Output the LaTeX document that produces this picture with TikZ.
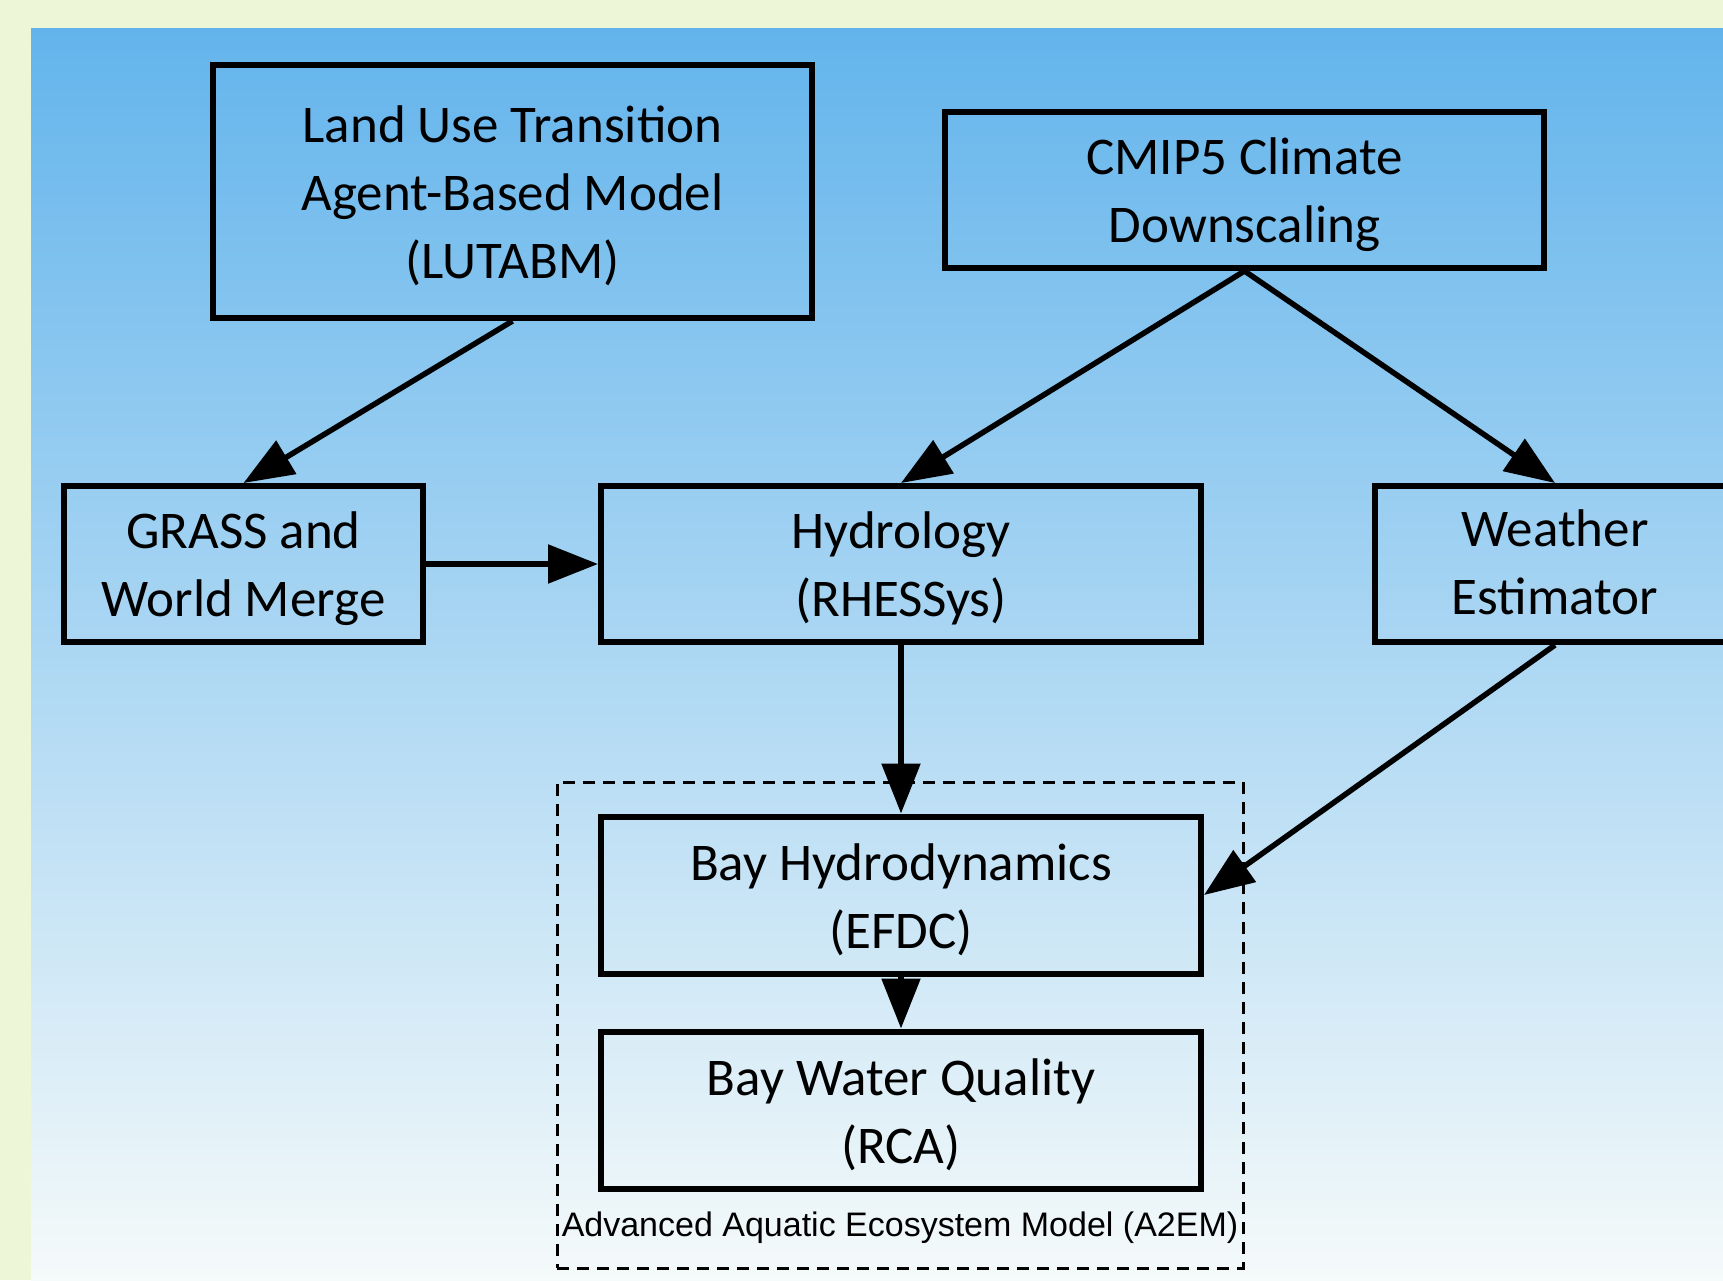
\documentclass[tikz,border=0pt]{standalone}
\usepackage{fontspec}
\setmainfont{Carlito}
\newfontfamily\labelfont{Liberation Sans}
\usetikzlibrary{arrows.meta}
\definecolor{cream}{HTML}{EEF6D8}
\definecolor{skytop}{HTML}{63B4EC}
\definecolor{skymid}{HTML}{A6D5F4}
\definecolor{skybot}{HTML}{F5FAFA}
\newcommand\topgap{\rule{0pt}{46pt}}
\tikzset{
  modelbox/.style={draw=black, line width=6pt, rectangle, align=center,
    inner sep=0pt, font=\fontsize{53}{68}\selectfont},
  flow/.style={line width=5.5pt, -{Triangle[length=50pt,width=38pt]}},
  groupbox/.style={draw=black, line width=3pt, dash pattern=on 12pt off 8pt, rectangle, inner sep=0pt},
}
\begin{document}
\begin{tikzpicture}[x=1pt,y=-1pt]
\useasboundingbox (0,0) rectangle (1723,1280);
\fill[cream] (0,0) rectangle (1723,1280);
\shade[top color=skytop, middle color=skymid, bottom color=skybot] (31,28) rectangle (1723,1280);

\node[groupbox, minimum width=686pt, minimum height=486pt] (a2em) at (900,1025) {};
\node[font=\labelfont\fontsize{34}{38}\selectfont] (a2emlabel) at (900,1228) {Advanced Aquatic Ecosystem Model (A2EM)};

\node[modelbox, minimum width=599pt, minimum height=253pt] (lut) at (512.5,191.5) {\topgap Land Use Transition\\Agent-Based Model\\(LUTABM)};
\node[modelbox, minimum width=599pt, minimum height=156pt] (cmip) at (1244.5,190) {\topgap CMIP5 Climate\\Downscaling};
\node[modelbox, minimum width=359pt, minimum height=156pt] (grass) at (243.5,564) {\topgap GRASS and\\World Merge};
\node[modelbox, minimum width=600pt, minimum height=156pt] (hyd) at (901,564) {\topgap Hydrology\\(RHESSys)};
\node[modelbox, minimum width=360pt, minimum height=156pt] (wea) at (1555,564) {\topgap Weather\\Estimator\rule[-14pt]{0pt}{0pt}};
\node[modelbox, minimum width=600pt, minimum height=157pt] (bayh) at (901,895) {\topgap Bay Hydrodynamics\\(EFDC)};
\node[modelbox, minimum width=600pt, minimum height=157pt] (bayw) at (901,1110) {\topgap Bay Water Quality\\(RCA)};

\draw[flow] (lut.south) -- (grass.north);
\draw[flow] (cmip.south) -- (hyd.north);
\draw[flow] (cmip.south) -- (wea.north);
\draw[flow] (grass.east) -- (hyd.west);
\draw[flow] (hyd.south) -- (bayh.north);
\draw[flow] (wea.south) -- (bayh.east);
\draw[flow] (bayh.south) -- (bayw.north);
\end{tikzpicture}
\end{document}
